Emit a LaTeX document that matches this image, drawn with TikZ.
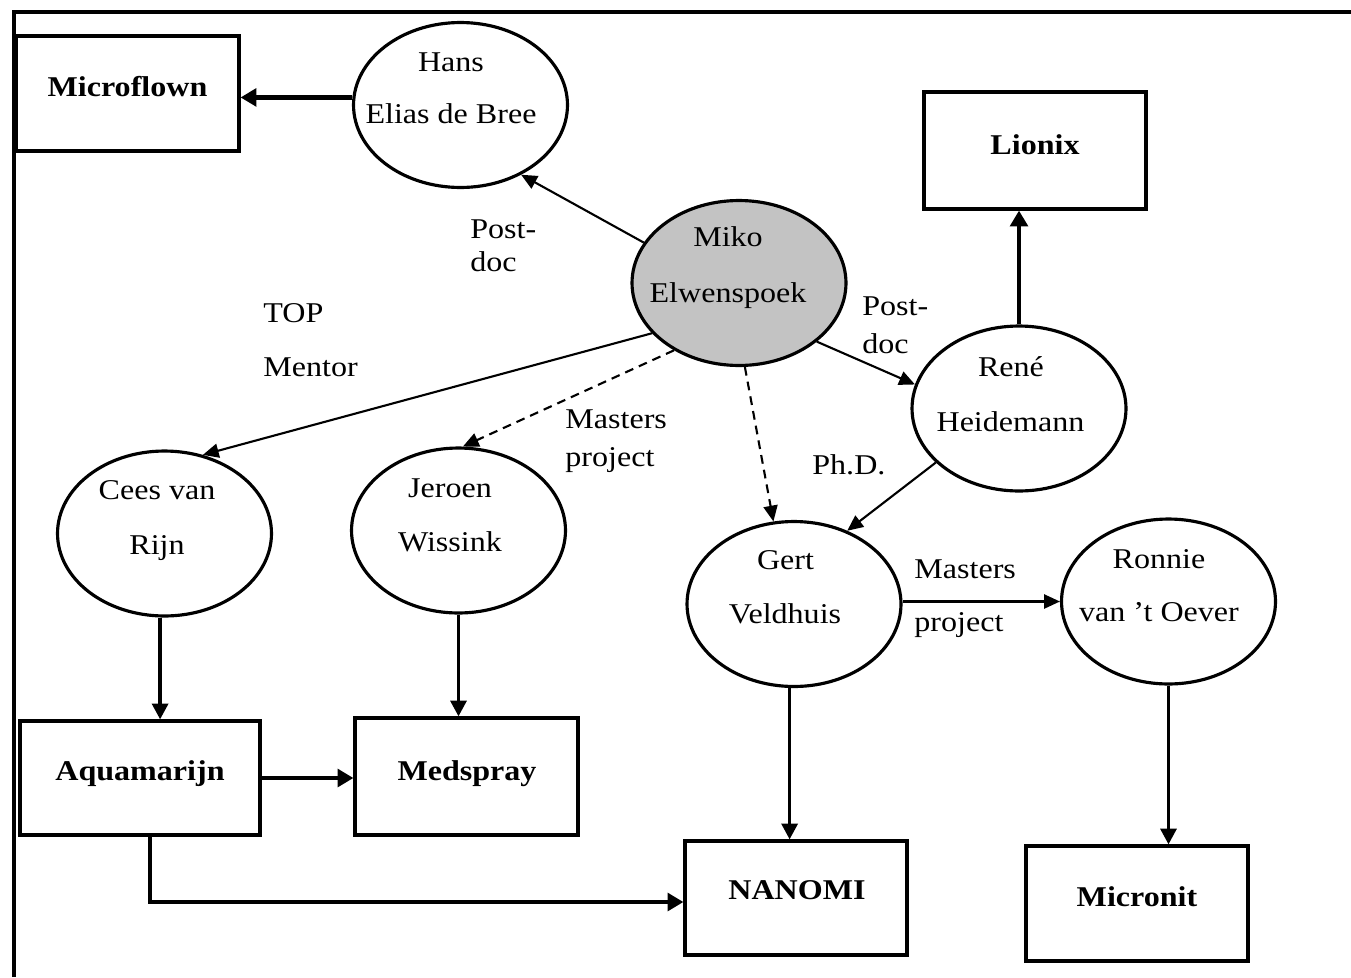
\documentclass[tikz,border=0pt]{standalone}
\usepackage{fontspec}
\setmainfont{Liberation Serif}[FakeStretch=1.12]
\usetikzlibrary{arrows.meta,shapes.geometric}
\definecolor{mikogray}{RGB}{195,195,195}
\begin{document}
\begin{tikzpicture}[x=0.02cm,y=-0.02cm,
  person/.style={ellipse,draw,line width=1.8pt,minimum width=4.28cm,minimum height=3.3cm,inner sep=0pt},
  org/.style={rectangle,draw,line width=1.8pt,inner sep=0pt},
  txt/.style={anchor=base,inner sep=0pt,font=\fontsize{16.3}{19}\selectfont},
  btxt/.style={anchor=base,inner sep=0pt,font=\fontsize{16.3}{19}\selectfont\bfseries},
  ltxt/.style={anchor=base west,inner sep=0pt,font=\fontsize{16.3}{19}\selectfont},
  rel/.style={line width=1.2pt,-{Triangle[length=9pt,width=8pt]}},
  reldash/.style={rel,dash pattern=on 5pt off 3.5pt},
  relmid/.style={line width=2.1pt,-{Triangle[length=9pt,width=9pt]}},
  relthick/.style={line width=2.8pt,-{Triangle[length=9pt,width=10pt]}}
]
\useasboundingbox (0,0) rectangle (1351,977);
% frame
\draw[line width=2pt] (14,977) -- (14,12) -- (1351,12);

% organisations
\node[org,minimum width=4.46cm,minimum height=2.3cm] (microflown) at (127.5,93.5) {};
\node[org,minimum width=4.44cm,minimum height=2.34cm] (lionix) at (1035,150.5) {};
\node[org,minimum width=4.8cm,minimum height=2.28cm] (aqua) at (140,778) {};
\node[org,minimum width=4.46cm,minimum height=2.34cm] (med) at (466.5,776.5) {};
\node[org,minimum width=4.44cm,minimum height=2.28cm] (nanomi) at (796,898) {};
\node[org,minimum width=4.44cm,minimum height=2.3cm] (micronit) at (1137,903.5) {};

\node[btxt] (microflownT) at (127.5,96) {Microflown};
\node[btxt] (lionixT) at (1035,154) {Lionix};
\node[btxt] (aquaT) at (140,780) {Aquamarijn};
\node[btxt] (medT) at (467,780) {Medspray};
\node[btxt] (nanomiT) at (797,899) {NANOMI};
\node[btxt] (micronitT) at (1137,906) {Micronit};

% persons
\node[person] (hans) at (460.5,105) {};
\node[person,fill=mikogray] (miko) at (739,283) {};
\node[person] (rene) at (1019,408.5) {};
\node[person] (cees) at (164.5,533.5) {};
\node[person] (jeroen) at (458.5,530.5) {};
\node[person] (gert) at (794,604) {};
\node[person] (ronnie) at (1168.5,601.5) {};

\node[txt] (hansA) at (451,71) {Hans};
\node[txt] (hansB) at (451,123) {Elias de Bree};
\node[txt] (mikoA) at (728,246) {Miko};
\node[txt] (mikoB) at (728,302) {Elwenspoek};
\node[txt] (reneA) at (1011,376) {René};
\node[txt] (reneB) at (1010.5,431) {Heidemann};
\node[txt] (ceesA) at (157,499) {Cees van};
\node[txt] (ceesB) at (157,554) {Rijn};
\node[txt] (jeroenA) at (450,497) {Jeroen};
\node[txt] (jeroenB) at (450,551) {Wissink};
\node[txt] (gertA) at (785.5,569) {Gert};
\node[txt] (gertB) at (785,623) {Veldhuis};
\node[txt] (ronnieA) at (1159,568) {Ronnie};
\node[txt] (ronnieB) at (1159,621) {van 't Oever};

% edge labels
\node[ltxt] (pd1A) at (470,238) {Post-};
\node[ltxt] (pd1B) at (470,271) {doc};
\node[ltxt] (topA) at (263,322) {TOP};
\node[ltxt] (topB) at (263,376) {Mentor};
\node[ltxt] (pd2A) at (862,315) {Post-};
\node[ltxt] (pd2B) at (862,353) {doc};
\node[ltxt] (mp1A) at (565,428) {Masters};
\node[ltxt] (mp1B) at (565,466) {project};
\node[ltxt] (phd) at (812,474) {Ph.D.};
\node[ltxt] (mp2A) at (914,578) {Masters};
\node[ltxt] (mp2B) at (914,631) {project};

% connectors
\draw[relthick] (hans.176) -- (microflown.east |- hans.176);
\draw[rel] (miko.157) -- (hans.-49.5);
\draw[rel] (miko.-37) -- (rene.167);
\draw[relthick] (rene.north) -- (rene.north |- lionix.south);
\draw[rel] (miko.210) -- (cees.64);
\draw[reldash] (miko.226.6) -- (jeroen.87);
\draw[reldash] (miko.-86) -- (gert.104);
\draw[rel] (rene.213) -- (gert.54);
\draw[rel] (gert.east |- ronnie.west) -- (ronnie.west);
\draw[relmid] (cees.-93) -- (cees.-93 |- aqua.north);
\draw[relmid] (jeroen.south) -- (jeroen.south |- med.north);
\draw[relthick] (aqua.east) -- (aqua.east -| med.west);
\draw[relmid] (gert.-93) -- (gert.-93 |- nanomi.north);
\draw[relmid] (ronnie.south) -- (ronnie.south |- micronit.north);
\draw[relthick] ([xshift=0.2cm]aqua.south) |- ([yshift=-0.08cm]nanomi.west);
\end{tikzpicture}
\end{document}
